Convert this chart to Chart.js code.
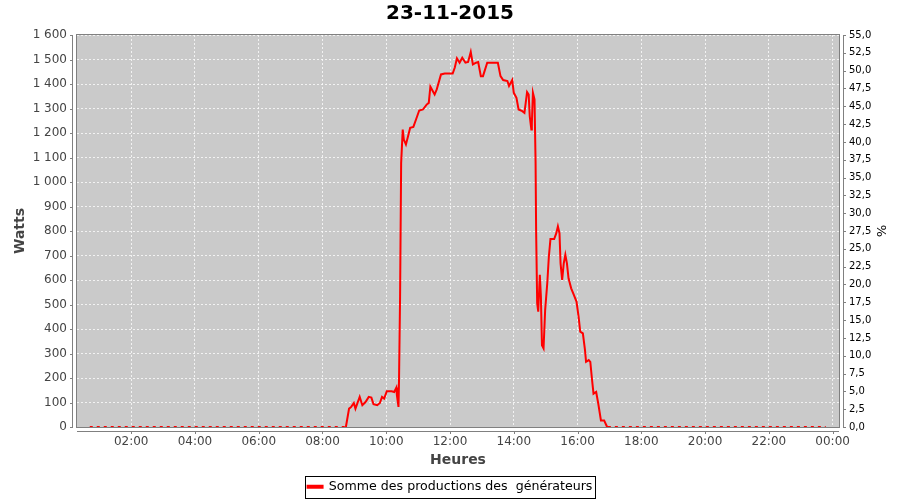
<!DOCTYPE html>
<html lang="fr">
<head>
    <meta charset="UTF-8">
    <title>Production 23-11-2015</title>
    <script src="https://cdn.jsdelivr.net/npm/chart.js"></script>
    <style>
        body { margin: 0; background: #fff; }
    </style>
</head>
<body>
    <canvas id="graphique" width="900" height="500"></canvas>
<script>
    // heures des mesures et puissance totale (W)
    const heures = [
        '00:42','01:00','02:00','03:00','04:00','05:00','06:00','07:00','08:00','08:30','08:44',
        '08:50','08:54','08:59','09:02','09:10','09:15','09:21','09:27','09:32','09:36',
        '09:43','09:48','09:52','09:56','10:01','10:10','10:15','10:19','10:20','10:23',
        '10:24','10:26','10:28','10:31','10:33','10:37','10:41','10:45','10:51','10:56',
        '11:02','11:09','11:16','11:20','11:23','11:31','11:35','11:43','11:50','12:05',
        '12:09','12:13','12:18','12:23','12:29','12:34','12:39','12:43','12:49','12:53',
        '12:58','13:02','13:10','13:30','13:35','13:40','13:48','13:51','13:57','14:00',
        '14:05','14:09','14:16','14:20','14:22','14:25','14:28','14:30','14:33','14:34',
        '14:36','14:39','14:41','14:42','14:44','14:46','14:49','14:51','14:53','14:56',
        '14:59','15:03','15:06','15:09','15:16','15:20','15:23','15:26','15:28','15:31',
        '15:34','15:37','15:40','15:43','15:48','15:53','15:58','16:02','16:05','16:10',
        '16:14','16:16','16:21','16:24','16:27','16:30','16:35','16:39','16:44','16:50',
        '16:55','16:57','17:00','18:00','19:00','20:00','21:00','22:00','23:00','23:47'
    ]
    const watts = [
        0,0,0,0,0,0,0,0,0,0,0,
        75,82,98,75,123,89,102,123,120,93,
        89,98,123,116,146,146,143,161,130,82,
        191,532,1078,1214,1173,1153,1187,1221,1225,1255,
        1292,1296,1316,1323,1389,1357,1378,1439,1443,1443,
        1467,1505,1487,1507,1487,1490,1531,1480,1487,1490,
        1432,1432,1487,1487,1432,1416,1412,1392,1416,1364,
        1344,1296,1289,1282,1316,1367,1357,1269,1214,1241,
        1364,1337,1078,805,505,471,621,532,334,321,
        477,587,696,767,767,791,819,791,668,600,
        668,703,668,607,566,539,512,450,389,382,
        314,266,273,266,198,136,143,95,27,27,
        3,0,0,0,0,0,0,0,0,0
    ]
    const heuresAxe = ['02:00','04:00','06:00','08:00','10:00','12:00','14:00','16:00','18:00','20:00','22:00','00:00']
    const wattsAxe = [0,100,200,300,400,500,600,700,800,900,1000,1100,1200,1300,1400,1500,1600]
    const pourcentAxe = [0,2.5,5,7.5,10,12.5,15,17.5,20,22.5,25,27.5,30,32.5,35,37.5,40,42.5,45,47.5,50,52.5,55]

    const police = 'DejaVu Sans'
    const gris = '#444444'

    function enMinutes(h){
        var p = h.split(':')
        return parseInt(p[0])*60 + parseInt(p[1])
    }
    const minutesAxe = heuresAxe.map((h, i) => (i+1)*120)

    // fond du graphique, cadre, axes décalés et légende encadrée
    const cadre = {
        id: 'cadre',
        beforeDraw(chart){
            const {ctx, chartArea: a} = chart
            ctx.save()
            ctx.fillStyle = '#cacaca'
            ctx.fillRect(a.left, a.top, a.right-a.left, a.bottom-a.top)
            ctx.restore()
        },
        afterDraw(chart){
            const {ctx, chartArea: a, scales} = chart
            const l = Math.round(a.left), r = Math.round(a.right), t = Math.round(a.top), b = Math.round(a.bottom)
            ctx.save()
            ctx.lineWidth = 1
            ctx.strokeStyle = '#808080'
            ctx.strokeRect(l-0.5, t-0.5, r-l+1, b-t+1)

            ctx.beginPath()
            // axe gauche
            ctx.moveTo(l-4.5, t); ctx.lineTo(l-4.5, b)
            scales.y.ticks.forEach(tk=>{
                var y = Math.round(scales.y.getPixelForValue(tk.value))+0.5
                ctx.moveTo(l-7, y); ctx.lineTo(l-4, y)
            })
            // axe droit
            ctx.moveTo(r+4.5, t); ctx.lineTo(r+4.5, b)
            scales.y2.ticks.forEach(tk=>{
                var y = Math.round(scales.y2.getPixelForValue(tk.value))+0.5
                ctx.moveTo(r+4, y); ctx.lineTo(r+7, y)
            })
            // axe du bas
            ctx.moveTo(l, b+4.5); ctx.lineTo(r, b+4.5)
            scales.x.ticks.forEach(tk=>{
                var x = Math.round(scales.x.getPixelForValue(tk.value))+0.5
                ctx.moveTo(x, b+4); ctx.lineTo(x, b+7)
            })
            ctx.stroke()

            const hb = chart.legend.legendHitBoxes[0]
            if(hb){
                var cy = hb.top + hb.height/2
                ctx.strokeStyle = '#000'
                ctx.strokeRect(Math.round(hb.left)-2.5, Math.round(cy)-10.5, Math.round(hb.width)+5, 22)
            }
            ctx.restore()
        }
    }

    const grille = {
        display: true,
        drawTicks: false,
        color: 'rgba(255,255,255,0.75)',
        lineWidth: 1
    }

    const graphique = new Chart(document.getElementById('graphique'), {
        type: 'line',
        data: {
            datasets: [{
                label: 'Somme des productions des  générateurs',
                data: heures.map((h, i) => ({x: enMinutes(h), y: watts[i]})),
                borderColor: '#ff0000',
                backgroundColor: '#ff0000',
                borderWidth: 2,
                pointRadius: 0,
                tension: 0,
                fill: false,
                clip: 2,
                yAxisID: 'y',
                segment: {
                    borderDash: c => (c.p0.parsed.y === 0 && c.p1.parsed.y === 0) ? [3, 4] : undefined
                }
            }]
        },
        options: {
            responsive: false,
            animation: false,
            layout: { padding: { left: 10, right: 10, top: 0, bottom: 1.5 } },
            plugins: {
                title: {
                    display: true,
                    text: '23-11-2015',
                    color: '#000',
                    font: { family: police, size: 20, weight: 'bold' },
                    padding: { top: 2, bottom: 9 }
                },
                legend: {
                    position: 'bottom',
                    maxHeight: 22,
                    labels: {
                        color: '#000',
                        font: { family: police, size: 12.6 },
                        boxWidth: 15,
                        boxHeight: 2,
                        padding: 4
                    }
                },
                tooltip: { enabled: false }
            },
            scales: {
                x: {
                    type: 'linear',
                    min: 18,
                    max: 1452,
                    grid: grille,
                    border: { display: false, dash: [2, 2] },
                    afterBuildTicks: s => { s.ticks = minutesAxe.map(v => ({value: v})) },
                    afterFit: s => { s.height = 49.5 },
                    ticks: {
                        autoSkip: false,
                        maxRotation: 0,
                        padding: 8,
                        color: gris,
                        font: { family: police, size: 12 },
                        callback: v => heuresAxe[minutesAxe.indexOf(v)]
                    },
                    title: {
                        display: true,
                        text: 'Heures',
                        color: gris,
                        font: { family: police, size: 14, weight: 'bold' },
                        padding: { top: 2, bottom: 8 }
                    }
                },
                y: {
                    position: 'left',
                    min: 0,
                    max: 1600,
                    grid: grille,
                    border: { display: false, dash: [2, 2] },
                    afterBuildTicks: s => { s.ticks = wattsAxe.map(v => ({value: v})) },
                    afterFit: s => { s.width = 67 },
                    ticks: {
                        autoSkip: false,
                        padding: 10,
                        color: gris,
                        font: { family: police, size: 12 },
                        callback: v => v >= 1000 ? Math.floor(v/1000) + '\u00a0' + String(v%1000).padStart(3, '0') : String(v)
                    },
                    title: {
                        display: true,
                        text: 'Watts',
                        color: gris,
                        font: { family: police, size: 14, weight: 'bold' },
                        padding: { top: 2, bottom: 4 }
                    }
                },
                y2: {
                    position: 'right',
                    min: 0,
                    max: 55,
                    grid: { display: false, drawTicks: false },
                    border: { display: false },
                    afterBuildTicks: s => { s.ticks = pourcentAxe.map(v => ({value: v})) },
                    afterFit: s => { s.width = 51 },
                    ticks: {
                        autoSkip: false,
                        padding: 10,
                        color: '#000',
                        font: { family: police, size: 10 },
                        callback: v => v.toFixed(1).replace('.', ',')
                    },
                    title: {
                        display: true,
                        text: '%',
                        color: '#000',
                        font: { family: police, size: 13 },
                        padding: { top: 2, bottom: 1 }
                    }
                }
            }
        },
        plugins: [cadre]
    })
</script>
</body>
</html>
